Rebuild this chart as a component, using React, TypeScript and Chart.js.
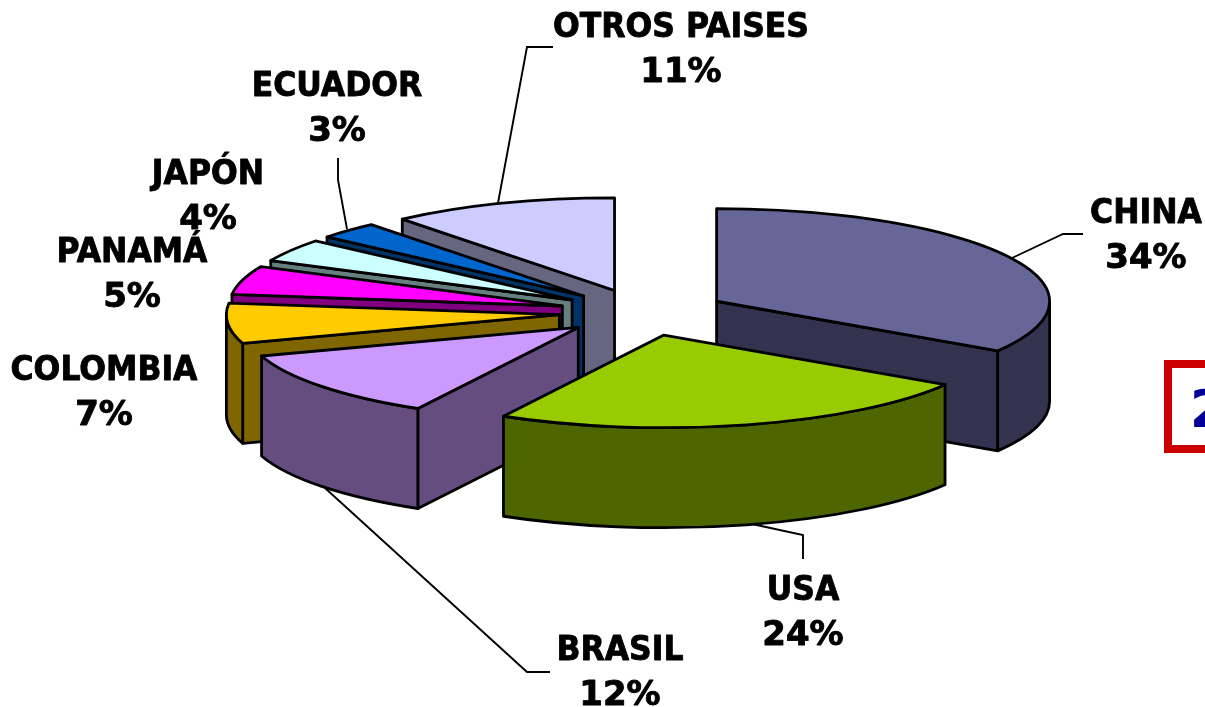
import React, { useEffect, useRef } from "react";
import { Chart, registerables } from "chart.js";

Chart.register(...registerables);

const categories = ["CHINA", "USA", "BRASIL", "COLOMBIA", "PANAMÁ", "JAPÓN", "ECUADOR", "OTROS PAISES"];
const shares = [34, 24, 12, 7, 5, 4, 3, 11];
const topColors = ["#666699", "#99CC00", "#CC99FF", "#FFCC00", "#FF00FF", "#CCFFFF", "#0066CC", "#CCCCFF"];
const sideColors = ["#333350", "#4D6600", "#664D80", "#806600", "#800080", "#668080", "#003366", "#666680"];

// [centre x, first-line baseline y] of every data label
const labelAnchors = [
  [1146, 223], [803, 600], [620, 660], [104, 380], [132, 262], [208, 184], [337, 96], [681, 37],
];
// leader lines
const leaderLines = [
  [[1012, 258], [1063, 234], [1083, 234]],
  [[752, 524], [803, 535], [803, 559]],
  [[325, 488], [527, 672], [550, 672]],
  [[338, 158], [338, 180], [347, 229]],
  [[553, 47], [527, 47], [498, 203]],
];

const SQUASH = 0.278;
const DEPTH = 100;
const EXPLODE = 84;
const RADIUS = 333;

const pie3d = {
  id: "pie3d",
  beforeDatasetDraw(chart: any) {
    const ctx: CanvasRenderingContext2D = chart.ctx;
    const arcs: any[] = chart.getDatasetMeta(0).data;
    const order = arcs
      .map((_, i) => i)
      .sort((p, q) => {
        const m = (a: any) => Math.sin((a.startAngle + a.endAngle) / 2);
        return m(arcs[p]) - m(arcs[q]);
      });

    ctx.save();
    ctx.lineWidth = 2.8;
    ctx.strokeStyle = "#000";
    ctx.lineJoin = "round";
    for (const i of order) {
      const el = arcs[i];
      const a = el.startAngle;
      const b = el.endAngle;
      const mid = (a + b) / 2;
      const off = el.options.offset;
      const r = el.outerRadius;
      const ax = el.x + Math.cos(mid) * off;
      const ay = el.y + Math.sin(mid) * off * SQUASH;
      const rim = (t: number): [number, number] => [ax + r * Math.cos(t), ay + r * SQUASH * Math.sin(t)];

      const face = (t: number) => {
        const [x, y] = rim(t);
        ctx.beginPath();
        ctx.moveTo(ax, ay);
        ctx.lineTo(x, y);
        ctx.lineTo(x, y + DEPTH);
        ctx.lineTo(ax, ay + DEPTH);
        ctx.closePath();
        ctx.fillStyle = sideColors[i];
        ctx.fill();
        ctx.stroke();
      };
      if (Math.sin(a - Math.PI / 2) > 1e-6) face(a);
      if (Math.sin(b + Math.PI / 2) > 1e-6) face(b);

      const s = Math.max(a, 0);
      const e = Math.min(b, Math.PI);
      if (e > s) {
        ctx.beginPath();
        ctx.ellipse(ax, ay, r, r * SQUASH, 0, s, e);
        ctx.ellipse(ax, ay + DEPTH, r, r * SQUASH, 0, e, s, true);
        ctx.closePath();
        ctx.fillStyle = sideColors[i];
        ctx.fill();
        ctx.stroke();
      }

      ctx.beginPath();
      ctx.moveTo(ax, ay);
      ctx.ellipse(ax, ay, r, r * SQUASH, 0, a, b);
      ctx.closePath();
      ctx.fillStyle = topColors[i];
      ctx.fill();
      ctx.stroke();
    }
    ctx.restore();
    return false;
  },
  afterDraw(chart: any) {
    const ctx: CanvasRenderingContext2D = chart.ctx;
    ctx.save();
    ctx.strokeStyle = "#000";
    ctx.lineWidth = 1.9;
    for (const line of leaderLines) {
      ctx.beginPath();
      line.forEach(([x, y], k) => (k ? ctx.lineTo(x, y) : ctx.moveTo(x, y)));
      ctx.stroke();
    }
    ctx.fillStyle = "#000";
    ctx.textAlign = "center";
    ctx.textBaseline = "alphabetic";
    ctx.font = 'bold 34px "DejaVu Sans"';
    ctx.lineWidth = 0.9;
    ctx.lineJoin = "round";
    const total = shares.reduce((p, c) => p + c, 0);
    categories.forEach((name, i) => {
      const [x, y] = labelAnchors[i];
      const pct = Math.round((shares[i] / total) * 100) + "%";
      ctx.save();
      ctx.translate(x, y);
      ctx.save();
      ctx.scale(0.926, 1);
      ctx.fillText(name, 0, 0);
      ctx.strokeText(name, 0, 0);
      ctx.restore();
      ctx.fillText(pct, 0, 45);
      ctx.strokeText(pct, 0, 45);
      ctx.restore();
    });
    // boxed annotation running off the right edge
    ctx.strokeStyle = "#CC0000";
    ctx.lineWidth = 8;
    ctx.lineJoin = "miter";
    ctx.strokeRect(1168, 364, 80, 85);
    ctx.fillStyle = "#000099";
    ctx.textAlign = "left";
    ctx.font = 'bold 52px "DejaVu Sans"';
    ctx.fillText("2", 1190, 427);
    ctx.restore();
  },
};

export default function App() {
  const ref = useRef<HTMLCanvasElement>(null);
  useEffect(() => {
    const chart = new Chart(ref.current!, {
      type: "pie",
      data: {
        labels: categories,
        datasets: [{ data: shares, backgroundColor: topColors, borderWidth: 0, offset: EXPLODE }],
      },
      options: {
        animation: false,
        responsive: false,
        events: [],
        rotation: 0,
        radius: RADIUS,
        layout: { padding: { left: 81, bottom: 82 } },
        plugins: { legend: { display: false }, tooltip: { enabled: false }, title: { display: false } },
      },
      plugins: [pie3d],
    } as any);
    return () => chart.destroy();
  }, []);
  return (
    <canvas
      ref={ref}
      width={1205}
      height={707}
      style={{ position: "absolute", left: 0, top: 0, width: 1205, height: 707, background: "#fff" }}
    />
  );
}
